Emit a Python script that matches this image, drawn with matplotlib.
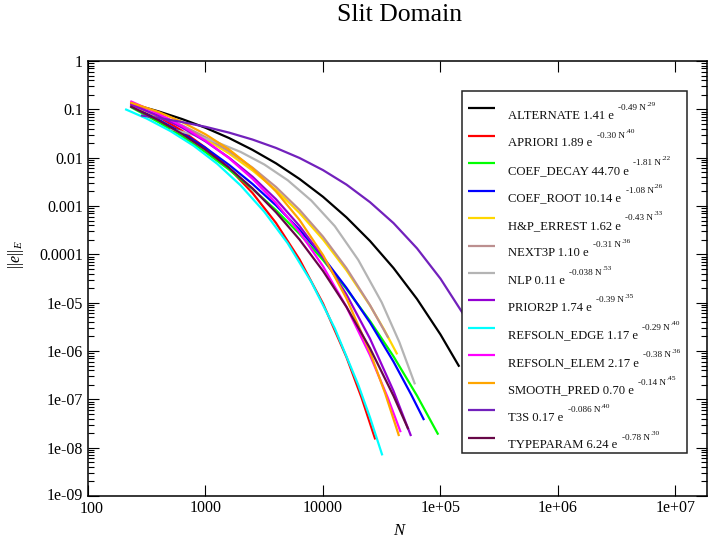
import matplotlib
matplotlib.use('Agg')
import matplotlib.pyplot as plt
import matplotlib.transforms as mtransforms
from matplotlib.patches import Rectangle
from matplotlib.lines import Line2D
from matplotlib.ticker import LogLocator, NullLocator

plt.rcParams['font.family'] = ['Liberation Serif', 'DejaVu Serif']
plt.rcParams['mathtext.fontset'] = 'custom'
plt.rcParams['mathtext.rm'] = 'Liberation Serif'
plt.rcParams['mathtext.it'] = 'Liberation Serif:italic'
plt.rcParams['mathtext.bf'] = 'Liberation Serif:bold'

# ---------------- data ----------------
n_alternate = [229, 398, 631, 1000, 1585, 2512, 3981, 6310, 10000, 15850, 25120, 39810, 63100, 100000, 144500]
e_alternate = [1.32e-1, 9.08e-2, 6.31e-2, 4.15e-2, 2.55e-2, 1.45e-2, 7.64e-3, 3.63e-3, 1.55e-3, 5.81e-4, 1.89e-4, 5.21e-5, 1.19e-5, 2.19e-6, 4.73e-7]

n_apriori = [229, 398, 631, 1000, 1585, 2512, 3981, 6310, 10000, 15850, 21380, 27860]
e_apriori = [1.35e-1, 7.03e-2, 3.61e-2, 1.61e-2, 6.05e-3, 1.86e-3, 4.46e-4, 7.87e-5, 9.62e-6, 7.43e-7, 1.05e-7, 1.48e-8]

n_coef_decay = [229, 398, 631, 1000, 1585, 2512, 3981, 6310, 10000, 15850, 25120, 39810, 63100, 95700]
e_coef_decay = [1.13e-1, 5.44e-2, 2.77e-2, 1.30e-2, 5.68e-3, 2.26e-3, 8.18e-4, 2.65e-4, 7.64e-5, 1.92e-5, 4.18e-6, 7.74e-7, 1.19e-7, 1.86e-8]

n_coef_root = [229, 398, 631, 1000, 1585, 2512, 3981, 6310, 10000, 15850, 25120, 39810, 56230, 72440]
e_coef_root = [1.20e-1, 6.15e-2, 3.27e-2, 1.60e-2, 7.11e-3, 2.86e-3, 1.03e-3, 3.24e-4, 8.77e-5, 2.02e-5, 3.87e-6, 6.01e-7, 1.26e-7, 3.72e-8]

n_hp_errest = [229, 398, 631, 1000, 1585, 2512, 3981, 6310, 10000, 15850, 25120, 33110, 42850]
e_hp_errest = [1.22e-1, 7.29e-2, 4.39e-2, 2.43e-2, 1.22e-2, 5.45e-3, 2.14e-3, 7.19e-4, 2.03e-4, 4.66e-5, 8.71e-6, 2.77e-6, 8.51e-7]

n_next3p = [229, 398, 631, 1000, 1585, 2512, 3981, 6310, 10000, 15850, 25120, 35980]
e_next3p = [1.23e-1, 7.57e-2, 4.69e-2, 2.66e-2, 1.36e-2, 6.21e-3, 2.47e-3, 8.32e-4, 2.32e-4, 5.16e-5, 8.89e-6, 1.86e-6]

n_nlp = [501, 794, 1259, 1995, 3162, 5012, 7943, 12590, 19950, 31620, 44670, 60670]
e_nlp = [3.94e-2, 2.97e-2, 2.07e-2, 1.31e-2, 7.24e-3, 3.41e-3, 1.30e-3, 3.84e-4, 7.67e-5, 1.01e-5, 1.52e-6, 2.04e-7]

n_prior2p = [229, 398, 631, 1000, 1585, 2512, 3981, 6310, 10000, 15850, 25120, 39810, 56100]
e_prior2p = [1.28e-1, 7.31e-2, 4.19e-2, 2.17e-2, 1.00e-2, 4.04e-3, 1.38e-3, 3.87e-4, 8.65e-5, 1.47e-5, 1.80e-6, 1.49e-7, 1.74e-8]

n_refsoln_edge = [207, 316, 501, 794, 1259, 1995, 3162, 5012, 7943, 12590, 19950, 25120, 31990]
e_refsoln_edge = [1.01e-1, 6.44e-2, 3.57e-2, 1.76e-2, 7.46e-3, 2.65e-3, 7.62e-4, 1.69e-4, 2.70e-5, 2.95e-6, 2.00e-7, 4.22e-8, 6.92e-9]

n_refsoln_elem = [229, 398, 631, 1000, 1585, 2512, 3981, 6310, 10000, 15850, 25120, 35480, 45810]
e_refsoln_elem = [1.48e-1, 8.17e-2, 4.51e-2, 2.24e-2, 9.77e-3, 3.66e-3, 1.15e-3, 2.89e-4, 5.66e-5, 8.13e-6, 8.17e-7, 1.10e-7, 2.09e-8]

n_smooth_pred = [229, 398, 631, 1000, 1585, 2512, 3981, 6310, 10000, 15850, 25120, 33880, 44360]
e_smooth_pred = [1.39e-1, 8.83e-2, 5.48e-2, 3.04e-2, 1.48e-2, 6.04e-3, 2.00e-3, 5.16e-4, 9.68e-5, 1.22e-5, 9.51e-7, 1.31e-7, 1.74e-8]

n_t3s = [282, 398, 631, 1000, 1585, 2512, 3981, 6310, 10000, 15850, 25120, 39810, 63100, 100000, 158500]
e_t3s = [7.48e-2, 6.62e-2, 5.47e-2, 4.35e-2, 3.30e-2, 2.37e-2, 1.59e-2, 9.86e-3, 5.53e-3, 2.77e-3, 1.20e-3, 4.43e-4, 1.33e-4, 3.13e-5, 5.50e-6]

n_typeparam = [229, 398, 631, 1000, 1585, 2512, 3981, 6310, 10000, 15850, 25120, 39810, 53210]
e_typeparam = [1.16e-1, 5.94e-2, 3.10e-2, 1.46e-2, 6.19e-3, 2.31e-3, 7.41e-4, 2.02e-4, 4.53e-5, 8.15e-6, 1.14e-6, 1.18e-7, 2.40e-8]

series_names = ['ALTERNATE', 'APRIORI', 'COEF_DECAY', 'COEF_ROOT', 'H&P_ERREST', 'NEXT3P', 'NLP',
                'PRIOR2P', 'REFSOLN_EDGE', 'REFSOLN_ELEM', 'SMOOTH_PRED', 'T3S', 'TYPEPARAM']
fit_a = ['1.41', '1.89', '44.70', '10.14', '1.62', '1.10', '0.11', '1.74', '1.17', '2.17', '0.70', '0.17', '6.24']
fit_b = ['-0.49', '-0.30', '-1.81', '-1.08', '-0.43', '-0.31', '-0.038', '-0.39', '-0.29', '-0.38', '-0.14', '-0.086', '-0.78']
fit_c = ['.29', '.40', '.22', '.26', '.33', '.36', '.53', '.35', '.40', '.36', '.45', '.40', '.30']

series_n = [n_alternate, n_apriori, n_coef_decay, n_coef_root, n_hp_errest, n_next3p, n_nlp,
            n_prior2p, n_refsoln_edge, n_refsoln_elem, n_smooth_pred, n_t3s, n_typeparam]
series_e = [e_alternate, e_apriori, e_coef_decay, e_coef_root, e_hp_errest, e_next3p, e_nlp,
            e_prior2p, e_refsoln_edge, e_refsoln_elem, e_smooth_pred, e_t3s, e_typeparam]

colors = ['#000000', '#FF0000', '#00FF00', '#0000FF', '#FFD700', '#BC8F8F', '#B4B4B4',
          '#9400D3', '#00FFFF', '#FF00FF', '#FFA500', '#7221BC', '#670748']

x_ticks = [1e2, 1e3, 1e4, 1e5, 1e6, 1e7]
x_ticklabels = ['100', '1000', '10000', '1e+05', '1e+06', '1e+07']
y_ticks = [1e-9, 1e-8, 1e-7, 1e-6, 1e-5, 1e-4, 1e-3, 1e-2, 1e-1, 1]
y_ticklabels = ['1e-09', '1e-08', '1e-07', '1e-06', '1e-05', '0.0001', '0.001', '0.01', '0.1', '1']

# ---------------- figure ----------------
W, H = 710, 542
fig = plt.figure(figsize=(W / 100, H / 100), dpi=100)
L, R, T, B = 88, 707, 61, 496
ax = fig.add_axes([L / W, 1 - B / H, (R - L) / W, (B - T) / H])

for n, e, col in zip(series_n, series_e, colors):
    ax.plot(n, e, color=col, lw=1.6, solid_capstyle='butt', solid_joinstyle='round')

ax.set_xscale('log')
ax.set_yscale('log')
ax.set_xlim(100, 10 ** (2 + (R - L) / 117.5))
ax.set_ylim(1e-9, 1)
ax.set_xticks(x_ticks, x_ticklabels)
ax.set_yticks(y_ticks, y_ticklabels)
ax.xaxis.set_minor_locator(NullLocator())
ax.yaxis.set_minor_locator(LogLocator(base=10, subs=[2, 3, 4, 5, 6, 7, 8, 9], numticks=20))
ax.tick_params(which='both', direction='in', top=True, right=True, labelsize=11.5, width=0.8)
ax.tick_params(which='major', length=8)
ax.tick_params(which='minor', length=4.5)
ax.tick_params(axis='x', pad=3)
ax.tick_params(axis='y', pad=3.5)
for s in ax.spines.values():
    s.set_linewidth(1.1)

# the "100" label sits a little right of its tick, clear of "1e-09"
first = ax.get_xticklabels()[0]
first.set_transform(first.get_transform() +
                    mtransforms.ScaledTranslation(4 / 100, -1 / 100, fig.dpi_scale_trans))
bottom_y = ax.get_yticklabels()[0]
bottom_y.set_transform(bottom_y.get_transform() +
                       mtransforms.ScaledTranslation(0, 1.5 / 100, fig.dpi_scale_trans))


def fx(x):
    return x / W


def fy(y):
    return 1 - y / H


fig.text(fx(400), fy(15), 'Slit Domain', fontsize=18.5, ha='center', va='center')
fig.text(fx(400), fy(531), r'$N$', fontsize=12, ha='center', va='center')
fig.text(fx(16), fy(255), r'$||e||_{E}$', fontsize=11.5, ha='center', va='center', rotation=90)

# ---------------- legend ----------------
lx0, ly0, lx1, ly1 = 462, 91, 687, 453
fig.add_artist(Rectangle((fx(lx0), fy(ly1)), fx(lx1) - fx(lx0), fy(ly0) - fy(ly1),
                         transform=fig.transFigure, facecolor='white', edgecolor='#222222',
                         linewidth=1.1, zorder=5))
renderer = fig.canvas.get_renderer()
for i, (name, a, b, c, col) in enumerate(zip(series_names, fit_a, fit_b, fit_c, colors)):
    yl = 108.3 + 27.45 * i
    fig.add_artist(Line2D([fx(468), fx(495)], [fy(yl), fy(yl)], transform=fig.transFigure,
                          color=col, lw=1.6, solid_capstyle='butt', zorder=6))
    base = yl + 10.7
    t1 = fig.text(fx(508), fy(base), name + ' ' + a + ' e', fontsize=9.1,
                  ha='left', va='baseline', color='#111111', zorder=7)
    x1 = t1.get_window_extent(renderer).x1 + 4.5
    t2 = fig.text(fx(x1), fy(base - 8.8), b + ' N', fontsize=6.6,
                  ha='left', va='baseline', color='#111111', zorder=7)
    x2 = t2.get_window_extent(renderer).x1 + 0.5
    fig.text(fx(x2), fy(base - 13.4), c, fontsize=5.4,
             ha='left', va='baseline', color='#111111', zorder=7)

fig.savefig('out.png', dpi=100)
